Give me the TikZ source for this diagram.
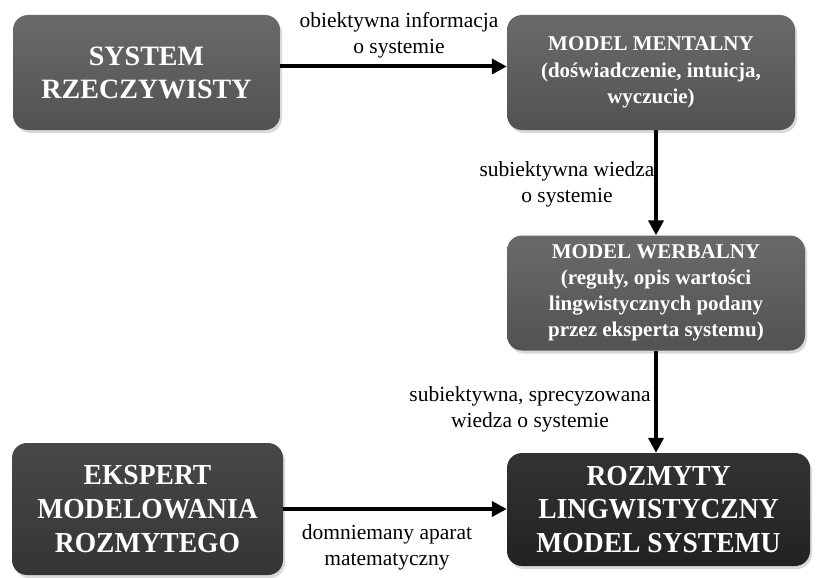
\documentclass[tikz,border=0pt]{standalone}
\usepackage{fontspec}
\setmainfont{Liberation Serif}
\newfontfamily\condfont{Liberation Serif}[FakeStretch=0.95]
\usetikzlibrary{arrows.meta,shadows,calc}
\definecolor{gtop}{HTML}{6A6A6A}
\definecolor{gbot}{HTML}{525252}
\definecolor{dtop}{HTML}{484848}
\definecolor{dbot}{HTML}{353535}
\definecolor{btop}{HTML}{333333}
\definecolor{bbot}{HTML}{222222}
\begin{document}
\begin{tikzpicture}[x=1pt,y=-1pt,
  box/.style={rounded corners=15pt, draw=none, align=center, text=white,
    inner sep=0pt,
    drop shadow={opacity=0.3, shadow xshift=2pt, shadow yshift=-3pt}},
  grey/.style={top color=gtop, bottom color=gbot},
  dark/.style={top color=dtop, bottom color=dbot},
  black/.style={top color=btop, bottom color=bbot},
  arr/.style={line width=4pt, -{Triangle[length=15pt,width=15pt]}},
  lbl/.style={font=\rmfamily\fontsize{21.5}{26}\selectfont, align=center, inner sep=0pt}]
\useasboundingbox (0,0) rectangle (820,578);

\node[box, grey, minimum width=267pt, minimum height=115pt,
  font=\bfseries\fontsize{28}{33}\selectfont] (b1) at (146.5,72.5)
  {SYSTEM\\RZECZYWISTY};
\node[box, grey, minimum width=288pt, minimum height=115pt,
  font=\bfseries\fontsize{21}{26.5}\selectfont] (b2) at (651,72.5)
  {MODEL MENTALNY\\(doświadczenie, intuicja,\\wyczucie)};
\node[box, grey, minimum width=298pt, minimum height=115pt,
  font=\bfseries\fontsize{21}{26}\selectfont] (b3) at (656,293)
  {MODEL WERBALNY\\(reguły, opis wartości\\lingwistycznych podany\\przez eksperta systemu)};
\node[box, black, minimum width=303pt, minimum height=113pt,
  font=\condfont\bfseries\fontsize{29}{33.5}\selectfont] (b4) at (658.5,509.5)
  {ROZMYTY\\LINGWISTYCZNY\\MODEL SYSTEMU};
\node[box, dark, minimum width=271pt, minimum height=132pt,
  font=\condfont\bfseries\fontsize{29}{34}\selectfont] (b5) at (147.5,509)
  {EKSPERT\\MODELOWANIA\\ROZMYTEGO};

\draw[arr] ([yshift=6pt]b1.east) -- ([yshift=6pt]b2.west);
\draw[arr] (b3.north |- b2.south) -- (b3.north);
\draw[arr] (b3.south) -- (b3.south |- b4.north);
\draw[arr] (b5.east) -- (b5.east -| b4.west);

\node[lbl] (l1) at (399,35.5) {obiektywna informacja\\o systemie};
\node[lbl] (l2) at (567,184) {subiektywna wiedza\\o systemie};
\node[lbl] (l3) at (530,409.5) {subiektywna, sprecyzowana\\wiedza o systemie};
\node[lbl] (l4) at (387,547.5) {domniemany aparat\\matematyczny};
\end{tikzpicture}
\end{document}
